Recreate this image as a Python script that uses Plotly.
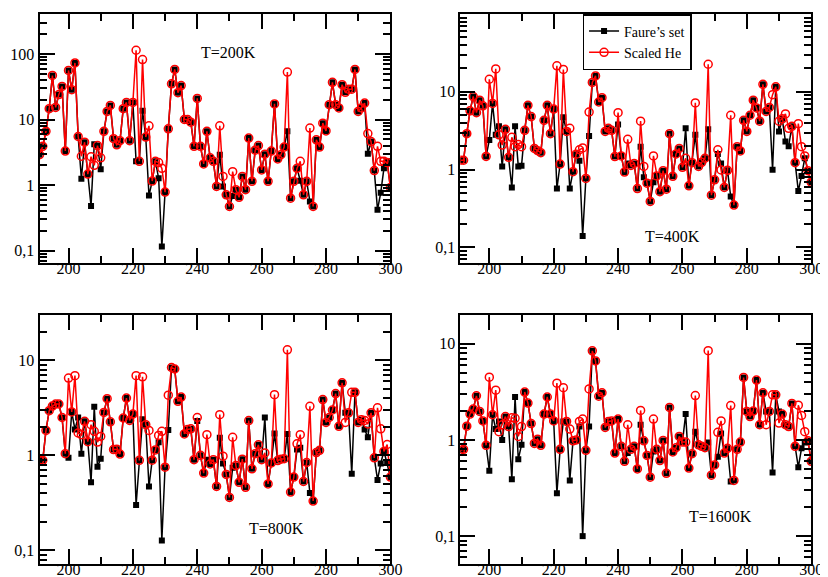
import math
import plotly.graph_objects as go

x_vals = list(range(191, 301))

faure_200 = [2.9, 3.9, 6.6, 14.6, 47, 15.3, 24, 32, 3.3, 56,
             28.5, 73, 5.5, 1.25, 4.5, 1.47, 0.48, 4.2, 4.0, 1.74,
             6.6, 13.3, 16.4, 5.1, 4.1, 4.75, 14.6, 18.2, 4.75, 18.2,
             2.3, 2.3, 13.6, 5.4, 0.69, 1.15, 2.3, 1.27, 0.115, 0.78,
             7.2, 35, 58, 25.7, 33, 10, 10, 9.1, 3.9, 21,
             3.9, 2.1, 6.6, 2.6, 2.3, 0.95, 2.9, 0.95, 0.71, 0.47,
             0.68, 0.85, 0.65, 1.35, 0.85, 5.2, 1.14, 3.4, 4.0, 1.7,
             2.96, 1.14, 3.3, 17.3, 2.5, 2.9, 3.8, 6.6, 0.63, 1.14,
             1.8, 1.16, 0.71, 1.14, 0.56, 0.47, 4.9, 3.8, 8.8, 6.7,
             16.8, 37, 16.8, 15, 34, 26, 29, 29, 58, 13.3,
             15, 17.8, 3.0, 4.6, 1.66, 0.42, 0.76, 1.8, 2.3, 0.92]
scaled_200 = [2.9, 3.9, 6.6, 14.6, 47, 15.3, 24, 32, 3.3, 56,
              28.5, 73, 5.5, 2.75, 4.5, 1.47, 2.7, 2.0, 4.0, 2.6,
              6.6, 13.3, 16.4, 5.1, 4.1, 4.75, 14.6, 18.2, 4.75, 18.2,
              114, 2.3, 82, 5.4, 8.0, 1.15, 2.3, 2.2, 1.8, 0.78,
              7.2, 35, 58, 25.7, 33, 10, 10, 9.1, 3.9, 21,
              3.9, 2.1, 6.6, 2.6, 2.3, 0.95, 8.0, 1.35, 0.71, 0.47,
              1.6, 0.85, 0.65, 1.35, 0.85, 5.2, 1.14, 3.4, 4.0, 1.7,
              2.96, 1.14, 3.3, 17.3, 2.5, 2.9, 3.8, 53, 0.63, 1.14,
              1.8, 2.3, 0.71, 1.14, 7.4, 0.47, 4.9, 3.8, 8.8, 6.7,
              16.8, 37, 16.8, 15, 34, 26, 29, 29, 58, 13.3,
              15, 17.8, 6.1, 4.6, 1.66, 3.9, 2.3, 2.3, 2.2, 0.92]

faure_400 = [1.32, 1.32, 2.9, 5.7, 8.7, 5.4, 7.8, 6.6, 1.48, 2.4,
             7.1, 2.8, 3.6, 1.1, 3.3, 1.44, 0.59, 3.6, 1.1, 1.12,
             3.2, 6.7, 4.8, 1.87, 1.75, 1.65, 4.3, 6.7, 2.9, 6.0,
             0.57, 1.18, 4.7, 3.1, 0.57, 0.94, 1.58, 1.3, 0.14, 0.77,
             2.7, 13.2, 16, 7.4, 8.4, 3.1, 3.4, 3.2, 1.47, 3.8,
             1.5, 0.93, 1.2, 1.13, 1.2, 0.57, 1.97, 0.8, 0.67, 0.39,
             0.69, 0.83, 0.52, 0.97, 0.56, 2.9, 0.82, 1.59, 1.87, 1.07,
             3.4, 0.62, 1.23, 2.8, 1.1, 1.24, 1.4, 3.3, 0.47, 0.74,
             1.59, 1.2, 0.59, 0.98, 0.45, 0.35, 1.97, 1.74, 4.3, 3.1,
             5.0, 7.8, 6.2, 4.2, 12.5, 5.6, 6.3, 1.0, 11.6, 3.1,
             4.5, 2.3, 2.0, 3.6, 1.23, 0.53, 0.83, 1.4, 0.97, 0.69]
scaled_400 = [1.32, 1.32, 2.9, 5.7, 8.7, 5.4, 7.8, 6.6, 1.48, 14.5,
              7.1, 19.7, 2.8, 2.07, 3.3, 1.44, 2.6, 1.97, 2.1, 1.97,
              3.2, 6.7, 4.8, 1.87, 1.75, 1.65, 4.3, 6.7, 2.9, 6.0,
              21.6, 1.18, 19.4, 3.1, 3.4, 0.94, 1.58, 1.8, 1.9, 0.77,
              5.5, 13.2, 16, 7.4, 8.4, 3.1, 3.4, 3.2, 1.47, 5.4,
              1.5, 0.93, 2.45, 1.13, 1.2, 0.57, 4.2, 1.1, 0.67, 0.39,
              1.5, 0.83, 0.52, 0.97, 0.56, 2.9, 0.82, 1.59, 1.87, 1.07,
              1.4, 0.62, 1.23, 7.2, 1.1, 1.24, 1.4, 22.6, 0.47, 0.74,
              1.8, 0.99, 0.59, 0.98, 5.0, 0.35, 1.97, 1.74, 4.3, 3.1,
              5.0, 7.8, 6.2, 4.2, 12.5, 5.6, 6.3, 9.2, 11.6, 4.2,
              4.5, 5.2, 3.4, 3.6, 1.23, 3.9, 1.97, 1.5, 0.97, 0.69]

faure_800 = [0.885, 0.885, 1.83, 2.95, 3.3, 3.47, 3.47, 2.5, 1.04, 0.94,
             2.86, 1.87, 2.5, 1.04, 2.28, 1.39, 0.52, 3.25, 0.76, 0.92,
             2.83, 3.95, 2.25, 1.15, 1.16, 1.03, 2.47, 4.0, 2.33, 2.72,
             0.30, 0.885, 2.4, 2.1, 0.47, 0.89, 1.14, 1.37, 0.127, 0.75,
             1.85, 8.4, 8.1, 3.7, 4.1, 1.68, 1.87, 1.9, 0.9, 2.3,
             1.0, 0.65, 0.9, 0.81, 0.9, 0.47, 1.53, 0.82, 0.63, 0.36,
             0.74, 0.78, 0.52, 0.91, 0.46, 2.32, 0.72, 1.04, 1.29, 0.9,
             2.5, 0.5, 0.83, 1.7, 0.88, 0.91, 0.92, 1.68, 0.41, 0.59,
             1.15, 1.2, 0.53, 0.84, 0.40, 0.33, 1.07, 1.13, 3.86, 2.22,
             2.5, 3.0, 4.47, 2.02, 5.8, 2.8, 2.8, 0.64, 4.6, 2.22,
             2.37, 1.87, 1.55, 2.8, 0.94, 0.55, 0.82, 1.11, 0.83, 0.59]
scaled_800 = [0.885, 0.885, 1.83, 2.95, 3.3, 3.47, 3.47, 2.5, 1.04, 6.5,
              2.86, 6.9, 1.72, 1.65, 2.28, 1.39, 2.1, 1.79, 1.38, 1.58,
              2.83, 3.95, 2.25, 1.15, 1.16, 1.03, 2.47, 4.0, 2.33, 2.72,
              6.9, 0.885, 6.7, 2.1, 1.83, 0.89, 1.14, 1.62, 1.79, 0.75,
              4.3, 8.4, 8.1, 3.7, 4.1, 1.68, 1.87, 1.9, 0.9, 2.5,
              1.0, 0.65, 1.65, 0.81, 0.9, 0.47, 2.68, 0.98, 0.63, 0.36,
              1.55, 0.78, 0.52, 0.91, 0.46, 2.32, 0.72, 1.04, 1.29, 0.9,
              1.06, 0.5, 0.83, 4.35, 0.88, 0.91, 0.92, 12.9, 0.41, 0.59,
              1.32, 1.65, 0.53, 0.84, 3.28, 0.33, 1.07, 1.13, 3.86, 2.22,
              2.5, 3.0, 4.47, 2.02, 5.8, 2.22, 2.8, 4.6, 4.6, 2.22,
              2.37, 2.33, 2.14, 2.8, 0.94, 3.16, 1.9, 1.1, 1.3, 0.59]

faure_1600 = [0.78, 0.80, 1.39, 1.86, 2.1, 2.88, 1.98, 1.58, 0.88, 0.48,
              1.83, 1.3, 1.56, 1.0, 1.75, 1.38, 0.39, 2.8, 0.63, 0.89,
              3.15, 2.42, 1.48, 0.92, 1.02, 0.88, 1.86, 2.8, 1.86, 1.58,
              0.28, 0.8, 1.56, 1.56, 0.38, 0.98, 1.0, 1.38, 0.1, 0.78,
              1.38, 8.45, 6.65, 2.85, 3.1, 1.35, 1.56, 1.58, 0.73, 1.65,
              0.86, 0.6, 0.73, 0.8, 0.86, 0.5, 1.44, 0.98, 0.69, 0.41,
              0.76, 0.8, 0.61, 0.99, 0.45, 2.18, 0.75, 0.83, 1.09, 0.95,
              1.86, 0.51, 0.72, 1.22, 0.89, 0.86, 0.83, 0.94, 0.43, 0.55,
              0.67, 1.17, 0.73, 0.82, 0.37, 0.38, 0.8, 0.95, 4.47, 1.98,
              1.75, 2.0, 4.2, 1.44, 3.1, 1.98, 1.98, 0.46, 2.95, 1.98,
              1.86, 1.44, 1.38, 2.4, 0.86, 0.52, 0.82, 0.94, 0.98, 0.6]
scaled_1600 = [0.78, 0.80, 1.39, 1.86, 2.1, 2.88, 1.98, 1.58, 0.88, 4.5,
               1.83, 3.3, 1.22, 1.44, 1.75, 1.38, 1.7, 1.68, 1.09, 1.38,
               3.15, 2.42, 1.48, 0.92, 1.02, 0.88, 1.86, 2.8, 1.86, 1.58,
               3.9, 0.8, 3.5, 1.56, 1.3, 0.98, 1.0, 1.56, 1.65, 0.78,
               3.4, 8.45, 6.65, 2.85, 3.1, 1.35, 1.56, 1.58, 0.73, 1.65,
               0.86, 0.6, 1.44, 0.8, 0.86, 0.5, 2.03, 0.98, 0.69, 0.41,
               1.65, 0.8, 0.61, 0.99, 0.45, 2.18, 0.75, 0.83, 1.09, 0.95,
               0.95, 0.51, 0.72, 2.9, 0.89, 0.86, 0.83, 8.5, 0.43, 0.55,
               1.2, 1.58, 0.73, 0.82, 2.28, 0.38, 0.8, 0.95, 4.47, 1.98,
               1.75, 2.0, 4.2, 1.44, 3.1, 1.44, 1.98, 2.95, 2.95, 1.5,
               1.86, 1.44, 1.38, 2.4, 0.86, 2.3, 1.8, 1.22, 0.98, 0.6]

series_names = ["Faure\u2019s set", "Scaled He"]
panel_labels = ["T=200K", "T=400K", "T=800K", "T=1600K"]
x_tick_vals = [200, 220, 240, 260, 280, 300]
x_minor_vals = [210, 230, 250, 270, 290]
y_tick_vals = [0.1, 1, 10, 100]
y_tick_text = ["0,1", "1", "10", "100"]

panels = [
    (faure_200, scaled_200),
    (faure_400, scaled_400),
    (faure_800, scaled_800),
    (faure_1600, scaled_1600),
]

W, H = 828, 577
# pixel boxes (left, right, top, bottom)
boxes = [(32, 388, 6, 255), (459, 815, 6, 255),
         (32, 388, 307, 556), (459, 815, 307, 556)]
y_ranges = [(-1.19, 2.61), (-1.20, 2.0), (-1.144, 1.477), (-1.29, 1.30)]
label_pos = [(224, 44), (674, 228), (272, 520), (723, 508)]

FONT = "Liberation Serif"
fig = go.Figure()

for i, (fa, sc) in enumerate(panels):
    n = "" if i == 0 else str(i + 1)
    fig.add_trace(go.Scatter(
        x=x_vals, y=fa, mode="lines+markers", name=series_names[0],
        xaxis="x" + n, yaxis="y" + n, showlegend=(i == 1),
        line=dict(color="black", width=1.5),
        marker=dict(symbol="square", size=6, color="black")))
    fig.add_trace(go.Scatter(
        x=x_vals, y=sc, mode="lines+markers", name=series_names[1],
        xaxis="x" + n, yaxis="y" + n, showlegend=(i == 1),
        line=dict(color="#ff0000", width=1.5),
        marker=dict(symbol="circle-open", size=8, color="#ff0000",
                    line=dict(width=1.5, color="#ff0000"))))

    l, r, t, b = boxes[i]
    lo, hi = y_ranges[i]
    minors = []
    for d in [0.01, 0.1, 1, 10, 100]:
        for k in range(2, 10):
            v = d * k
            if lo <= math.log10(v) <= hi:
                minors.append(v)
    xa = dict(domain=[l / W, r / W], range=[191, 300], anchor="y" + n,
              tickmode="array", tickvals=x_tick_vals,
              ticks="inside", ticklen=15, tickwidth=1.5, tickcolor="black",
              minor=dict(tickmode="array", tickvals=x_minor_vals,
                         ticks="inside", ticklen=7, tickwidth=1.5,
                         tickcolor="black", showgrid=False),
              ticklabelstandoff=-10,
              showline=True, linewidth=2, linecolor="black", mirror="allticks",
              showgrid=False, zeroline=False,
              tickfont=dict(family=FONT, size=16, color="black"))
    ya = dict(domain=[1 - b / H, 1 - t / H], type="log", range=[lo, hi],
              anchor="x" + n, tickmode="array", tickvals=y_tick_vals,
              ticktext=y_tick_text,
              ticks="inside", ticklen=15, tickwidth=1.5, tickcolor="black",
              minor=dict(tickmode="array", tickvals=minors, ticks="inside",
                         ticklen=7, tickwidth=1.5, tickcolor="black",
                         showgrid=False),
              showline=True, linewidth=2, linecolor="black", mirror="allticks",
              showgrid=False, zeroline=False,
              tickfont=dict(family=FONT, size=16, color="black"))
    fig.update_layout(**{"xaxis" + n: xa, "yaxis" + n: ya})

    px, py = label_pos[i]
    fig.add_annotation(x=px / W, y=1 - py / H, xref="paper", yref="paper",
                       text=panel_labels[i], showarrow=False,
                       font=dict(family=FONT, size=16, color="black"),
                       xanchor="center", yanchor="middle")

fig.update_layout(
    width=W, height=H,
    margin=dict(l=0, r=0, t=0, b=0),
    paper_bgcolor="white", plot_bgcolor="white",
    font=dict(family=FONT, size=16, color="black"),
    legend=dict(x=583 / W, y=1 - 6 / H, xanchor="left", yanchor="top",
                bgcolor="white", bordercolor="black", borderwidth=1.5,
                font=dict(family=FONT, size=14, color="black"),
                tracegroupgap=0, itemwidth=30),
)

fig.write_html("out.html")
